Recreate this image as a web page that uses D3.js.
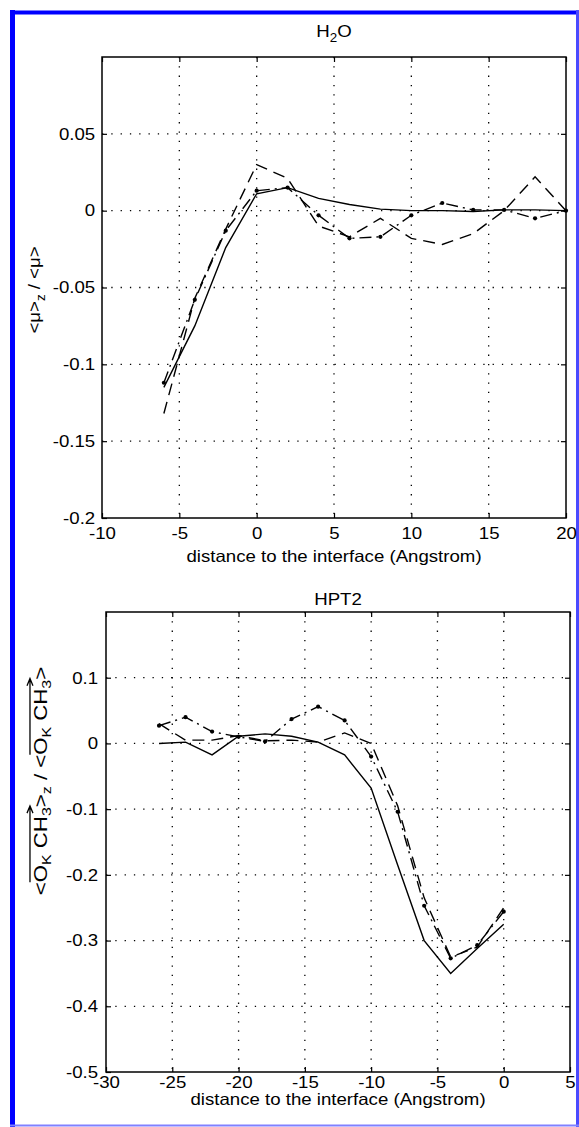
<!DOCTYPE html>
<html>
<head>
<meta charset="utf-8">
<script src="https://cdn.jsdelivr.net/npm/d3@7"></script>
<style>
    body { margin: 0; background: #fff; }
    svg text { font-family: "Liberation Sans", Arial, sans-serif; fill: #000; }
</style>
</head>
<body>
<svg id="fig" width="579" height="1127"></svg>
<script>
// H2O panel
const h2oX = [-6, -4, -2, 0, 2, 4, 6, 8, 10, 12, 14, 16, 18, 20];
const h2oSolid = [-0.115, -0.075, -0.024, 0.011, 0.015, 0.008, 0.004, 0.001, 0, 0, -0.0005, 0.0005, 0.0005, 0];
const h2oDashed = [-0.132, -0.057, -0.012, 0.030, 0.021, -0.010, -0.017, -0.005, -0.018, -0.022, -0.015, 0, 0.022, 0];
const h2oDashDot = [-0.112, -0.058, -0.013, 0.013, 0.015, -0.003, -0.018, -0.017, -0.003, 0.005, 0.0005, 0.0005, -0.005, 0];
const h2oXTicks = [-10, -5, 0, 5, 10, 15, 20];
const h2oYTicks = [-0.2, -0.15, -0.1, -0.05, 0, 0.05];

// HPT2 panel
const hptX = [-26, -24, -22, -20, -18, -16, -14, -12, -10, -8, -6, -4, -2, 0];
const hptSolid = [0, 0.002, -0.0175, 0.011, 0.0145, 0.011, 0.002, -0.0175, -0.068, -0.185, -0.300, -0.350, -0.312, -0.275];
const hptDashed = [0.030, 0.005, 0.005, 0.012, 0.004, 0.005, 0.002, 0.016, 0, -0.095, -0.235, -0.325, -0.310, -0.250];
const hptDashDot = [0.027, 0.040, 0.018, 0.010, 0.003, 0.037, 0.056, 0.035, -0.020, -0.104, -0.247, -0.327, -0.307, -0.256];
const hptXTicks = [-30, -25, -20, -15, -10, -5, 0, 5];
const hptYTicks = [-0.5, -0.4, -0.3, -0.2, -0.1, 0, 0.1];

const svg = d3.select("#fig");
const SX = 1.13;   // the scanned lettering is a bit wider than Liberation Sans

// blue frame round the figure
svg.append("line").attr("x1", 10).attr("x2", 579).attr("y1", 12.5).attr("y2", 12.5)
    .attr("stroke", "#0000ff").attr("stroke-width", 4);
svg.append("line").attr("x1", 12.5).attr("x2", 12.5).attr("y1", 10).attr("y2", 1127)
    .attr("stroke", "#0000ff").attr("stroke-width", 5);
svg.append("line").attr("x1", 577.5).attr("x2", 577.5).attr("y1", 10).attr("y2", 1127)
    .attr("stroke", "#4a4aff").attr("stroke-width", 3);
svg.append("line").attr("x1", 10).attr("x2", 579).attr("y1", 1125.5).attr("y2", 1125.5)
    .attr("stroke", "#8080ff").attr("stroke-width", 2);

// text made of [string, isSubscript, dy] parts
function richText(parent, parts, size, sx) {
    const t = parent.append("text")
        .attr("text-anchor", "middle").attr("font-size", size)
        .attr("transform", `scale(${sx},1)`);
    parts.forEach(q => t.append("tspan").text(q[0])
        .attr("font-size", q[1] ? size * 0.72 : null).attr("dy", q[2] || null));
    return t;
}

function drawPanel(p) {
    const x = d3.scaleLinear().domain(p.xDomain).range([p.left, p.right]);
    const y = d3.scaleLinear().domain(p.yDomain).range([p.bottom, p.top]);
    const g = svg.append("g");

    // dotted grid
    g.selectAll("line.vgrid")
        .data(p.xTicks.filter(d => d > p.xDomain[0] && d < p.xDomain[1]))
        .join("line")
        .attr("x1", d => x(d)).attr("x2", d => x(d))
        .attr("y1", p.top).attr("y2", p.bottom)
        .attr("stroke", "#000").attr("stroke-width", 1.3)
        .attr("stroke-dasharray", "1.3,8");
    g.selectAll("line.hgrid")
        .data(p.yGrid.filter(d => d > p.yDomain[0] && d < p.yDomain[1]))
        .join("line")
        .attr("x1", p.left).attr("x2", p.right)
        .attr("y1", d => y(d)).attr("y2", d => y(d))
        .attr("stroke", "#000").attr("stroke-width", 1.3)
        .attr("stroke-dasharray", "1.3,8");

    // axes, ticks pointing inward
    const fmt = d => String(d);
    const ax = [
        g.append("g").attr("transform", `translate(0,${p.bottom})`)
            .call(d3.axisBottom(x).tickValues(p.xTicks).tickFormat(fmt).tickSize(-5).tickSizeOuter(0).tickPadding(p.xPad)),
        g.append("g").attr("transform", `translate(${p.left},0)`)
            .call(d3.axisLeft(y).tickValues(p.yTicks).tickFormat(fmt).tickSize(-5).tickSizeOuter(0).tickPadding(p.yPad)),
        g.append("g").attr("transform", `translate(0,${p.top})`)
            .call(d3.axisTop(x).tickValues(p.xTicks).tickFormat("").tickSize(-5).tickSizeOuter(0)),
        g.append("g").attr("transform", `translate(${p.right},0)`)
            .call(d3.axisRight(y).tickValues(p.yGrid).tickFormat("").tickSize(-5).tickSizeOuter(0))
    ];
    ax.forEach(a => {
        a.attr("font-family", null).attr("font-size", 16.5);
        a.select(".domain").remove();
        a.selectAll(".tick line").attr("stroke-width", 1.2);
        a.selectAll(".tick text").attr("transform", `scale(${SX},1)`);
    });

    g.append("rect")
        .attr("x", p.left).attr("y", p.top)
        .attr("width", p.right - p.left).attr("height", p.bottom - p.top)
        .attr("fill", "none").attr("stroke", "#000").attr("stroke-width", 1.5);

    const series = [
        { values: p.solid, dash: null },
        { values: p.dashed, dash: "12,7" },
        { values: p.dashDot, dash: "12,5,2,5", dots: true }
    ];
    const line = d3.line().x(d => x(d[0])).y(d => y(d[1]));
    series.forEach(s => {
        const pts = p.xs.map((v, i) => [v, s.values[i]]);
        g.append("path")
            .attr("d", line(pts))
            .attr("fill", "none").attr("stroke", "#000")
            .attr("stroke-width", 1.4)
            .attr("stroke-dasharray", s.dash);
        if (s.dots) {
            g.selectAll(null).data(pts).join("circle")
                .attr("cx", d => x(d[0])).attr("cy", d => y(d[1]))
                .attr("r", 2.1).attr("fill", "#000");
        }
    });

    // title and x label
    const cx = (p.left + p.right) / 2;
    richText(g.append("g").attr("transform", `translate(${cx},${p.titleY})`), p.title, 16.5, SX);
    richText(g.append("g").attr("transform", `translate(${cx},${p.xLabelY})`),
        [["distance to the interface (Angstrom)"]], 16.5, SX);

    // rotated y label
    const yl = g.append("g")
        .attr("transform", `translate(${p.yLabelX},${p.yLabelY}) rotate(-90)`);
    const txt = richText(yl, p.yLabel, p.yLabelSize, p.yLabelSX);

    // vector arrows over parts of the label
    const inner = yl.append("g").attr("transform", `scale(${p.yLabelSX},1)`);
    (p.arrows || []).forEach(([a, b]) => {
        const n = txt.node();
        const x0 = n.getStartPositionOfChar(a).x;
        const x1 = n.getEndPositionOfChar(b).x + 1;
        const ay = -p.yLabelSize * 0.92;
        inner.append("path")
            .attr("d", `M${x0},${ay}H${x1}M${x1 - 6},${ay - 3}L${x1},${ay}L${x1 - 6},${ay + 3}`)
            .attr("fill", "none").attr("stroke", "#000").attr("stroke-width", 1.3);
    });
}

drawPanel({
    xDomain: [-10, 20], yDomain: [-0.2, 0.1],
    left: 102, right: 566, top: 57, bottom: 518,
    xTicks: h2oXTicks, yTicks: h2oYTicks, yGrid: [-0.15, -0.1, -0.05, 0, 0.05],
    xPad: 9, yPad: 6,
    xs: h2oX, solid: h2oSolid, dashed: h2oDashed, dashDot: h2oDashDot,
    title: [["H"], ["2", true, 5], ["O", false, -5]],
    titleY: 37, xLabelY: 562,
    yLabelX: 40, yLabelY: 290, yLabelSize: 16.5, yLabelSX: SX,
    yLabel: [["<μ>"], ["z", true, 5], [" / <μ>", false, -5]]
});

drawPanel({
    xDomain: [-30, 5], yDomain: [-0.5, 0.2],
    left: 106, right: 570, top: 612, bottom: 1072,
    xTicks: hptXTicks, yTicks: hptYTicks, yGrid: [-0.4, -0.3, -0.2, -0.1, 0, 0.1],
    xPad: 4, yPad: 7,
    xs: hptX, solid: hptSolid, dashed: hptDashed, dashDot: hptDashDot,
    title: [["HPT2"]],
    titleY: 605, xLabelY: 1105,
    yLabelX: 47, yLabelY: 781, yLabelSize: 18.5, yLabelSX: 1.2,
    yLabel: [["<O"], ["K", true, 4], [" CH", false, -4], ["3", true, 4], [">", false, -4],
             ["z", true, 4], [" / <O", false, -4], ["K", true, 4], [" CH", false, -4],
             ["3", true, 4], [">", false, -4]],
    arrows: [[1, 6], [13, 18]]
});
</script>
</body>
</html>
